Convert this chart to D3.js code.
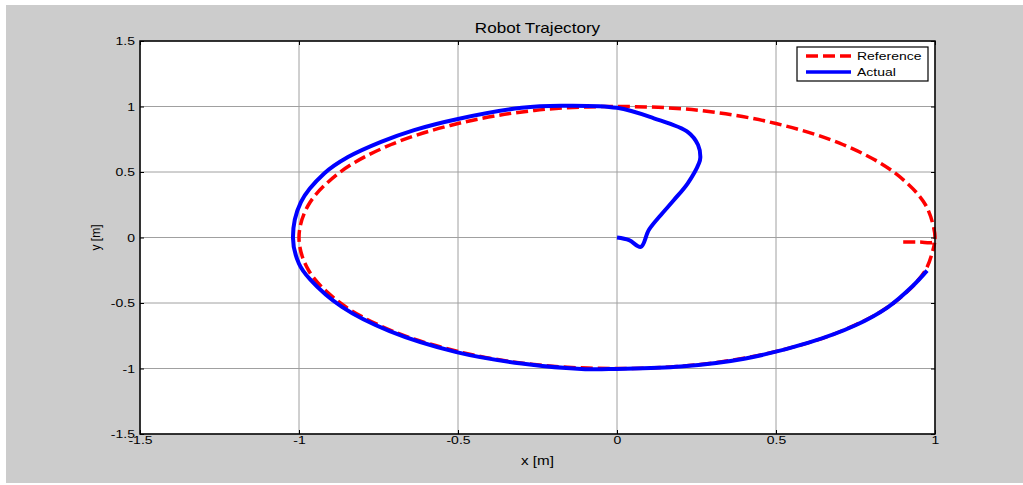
<!DOCTYPE html>
<html>
<head>
<meta charset="utf-8">
<script src="https://cdn.jsdelivr.net/npm/d3@7"></script>
<style>
  body { margin: 0; background: #fff; }
  text { font-family: "Liberation Sans", Arial, sans-serif; fill: #000; }
</style>
</head>
<body>
<script>
// Reference path (red dashed)
var refX = [0.9, 0.95, 0.995, 1.0, 0.97, 0.87, 0.71, 0.5, 0.26, 0.0, -0.26, -0.5, -0.71, -0.87, -0.97, -1.0,
            -0.97, -0.87, -0.71, -0.5, -0.26, 0.0, 0.26, 0.5, 0.71, 0.87, 0.97, 0.999];
var refY = [-0.035, -0.035, -0.035, 0.0, 0.25, 0.5, 0.71, 0.87, 0.97, 1.0, 0.97, 0.87, 0.71, 0.5, 0.25, 0.0,
            -0.25, -0.5, -0.71, -0.87, -0.97, -1.0, -0.97, -0.87, -0.71, -0.5, -0.25, -0.04];

// Actual path (blue)
var actX = [0, 0.038, 0.075, 0.1, 0.138, 0.179, 0.223, 0.258, 0.262, 0.255, 0.223, 0.116, 0.0, -0.176, -0.3, -0.5,
            -0.638, -0.742, -0.846, -0.92, -0.994, -1.019, -1.0, -0.965, -0.865, -0.715, -0.505, -0.3, -0.1,
            0.0, 0.2, 0.4, 0.6, 0.75, 0.85, 0.93, 0.975];
var actY = [0, -0.02, -0.072, 0.057, 0.172, 0.286, 0.416, 0.569, 0.61, 0.706, 0.805, 0.91, 0.99, 1.006, 0.99, 0.905,
            0.82, 0.73, 0.614, 0.49, 0.27, 0.0, -0.2, -0.32, -0.53, -0.715, -0.875, -0.962, -1.005,
            -1.003, -0.985, -0.925, -0.805, -0.67, -0.535, -0.37, -0.253];

var xTicks = [-1.5, -1, -0.5, 0, 0.5, 1];
var yTicks = [-1.5, -1, -0.5, 0, 0.5, 1, 1.5];
var seriesNames = ["Reference", "Actual"];

var W = 1023, H = 485;
var pL = 140, pR = 935, pT = 41, pB = 434;
var stretch = "scale(1.27,1)";   // the picture's text is drawn wide

var svg = d3.select("body").append("svg")
            .attr("width", W)
            .attr("height", H);

// figure background
svg.append("rect").attr("x", 6).attr("y", 5).attr("width", W - 6).attr("height", 478)
   .attr("fill", "#cccccc");

var x = d3.scaleLinear().domain([-1.5, 1]).range([pL, pR]);
var y = d3.scaleLinear().domain([-1.5, 1.5]).range([pB, pT]);

svg.append("rect").attr("x", pL).attr("y", pT)
   .attr("width", pR - pL).attr("height", pB - pT)
   .attr("fill", "#fff");

// grid
svg.append("g").selectAll("line").data(xTicks).enter().append("line")
   .attr("x1", function(d){ return x(d); }).attr("x2", function(d){ return x(d); })
   .attr("y1", pT).attr("y2", pB)
   .attr("stroke", "#a0a0a0").attr("stroke-width", 1);
svg.append("g").selectAll("line").data(yTicks).enter().append("line")
   .attr("y1", function(d){ return y(d); }).attr("y2", function(d){ return y(d); })
   .attr("x1", pL).attr("x2", pR)
   .attr("stroke", "#a0a0a0").attr("stroke-width", 1);

// data lines
var line = d3.line()
             .x(function(d){ return x(d[0]); })
             .y(function(d){ return y(d[1]); })
             .curve(d3.curveCatmullRom.alpha(0.5));

var refPts = refX.map(function(v, i){ return [v, refY[i]]; });
var actPts = actX.map(function(v, i){ return [v, actY[i]]; });

svg.append("path").attr("d", line(refPts))
   .attr("fill", "none").attr("stroke", "#ff0000")
   .attr("stroke-width", 3.5).attr("stroke-dasharray", "12,5");
svg.append("path").attr("d", line(actPts))
   .attr("fill", "none").attr("stroke", "#0000ff")
   .attr("stroke-width", 4).attr("stroke-linejoin", "round");

// axes (ticks inward, box)
var xAxis = d3.axisBottom(x).tickValues(xTicks).tickSize(-4).tickPadding(2)
              .tickFormat(function(d){ return String(d); });
var yAxis = d3.axisLeft(y).tickValues(yTicks).tickSize(-4).tickPadding(4)
              .tickFormat(function(d){ return String(d); });

svg.append("g").attr("transform", "translate(0," + pB + ")").call(xAxis);
svg.append("g").attr("transform", "translate(" + pL + ",0)").call(yAxis);
svg.append("g").attr("transform", "translate(0," + pT + ")")
   .call(d3.axisTop(x).tickValues(xTicks).tickSize(-4).tickFormat(""));
svg.append("g").attr("transform", "translate(" + pR + ",0)")
   .call(d3.axisRight(y).tickValues(yTicks).tickSize(-4).tickFormat(""));

svg.selectAll(".domain").remove();
svg.selectAll(".tick line").attr("stroke", "#000");
svg.selectAll(".tick text")
   .style("font-size", "11px")
   .style("font-family", "Liberation Sans, Arial, sans-serif")
   .attr("transform", stretch);

svg.append("rect").attr("x", pL).attr("y", pT)
   .attr("width", pR - pL).attr("height", pB - pT)
   .attr("fill", "none").attr("stroke", "#000").attr("stroke-width", 1.5);

// titles
svg.append("g").attr("transform", "translate(" + ((pL + pR) / 2) + ",33)")
   .append("text").attr("transform", "scale(1.22,1)")
   .attr("text-anchor", "middle").style("font-size", "14px").text("Robot Trajectory");
svg.append("g").attr("transform", "translate(" + ((pL + pR) / 2) + ",465)")
   .append("text").attr("transform", stretch)
   .attr("text-anchor", "middle").style("font-size", "12px").text("x [m]");
svg.append("text").attr("transform", "translate(100," + ((pT + pB) / 2) + ") rotate(-90)")
   .attr("text-anchor", "middle").style("font-size", "12px").text("y [m]");

// legend
var leg = svg.append("g");
leg.append("rect").attr("x", 797).attr("y", 47).attr("width", 131).attr("height", 34)
   .attr("fill", "#fff").attr("stroke", "#000").attr("stroke-width", 1.2);
var legStyles = [
  { color: "#ff0000", dash: "12,5", w: 3.5 },
  { color: "#0000ff", dash: null, w: 3.5 }
];
seriesNames.forEach(function(name, i){
  var yy = 56 + i * 16;
  leg.append("line").attr("x1", 806).attr("x2", 851).attr("y1", yy).attr("y2", yy)
     .attr("stroke", legStyles[i].color).attr("stroke-width", legStyles[i].w)
     .attr("stroke-dasharray", legStyles[i].dash);
  leg.append("g").attr("transform", "translate(857," + (yy + 4) + ")")
     .append("text").attr("transform", stretch)
     .style("font-size", "11px").text(name);
});
</script>
</body>
</html>
